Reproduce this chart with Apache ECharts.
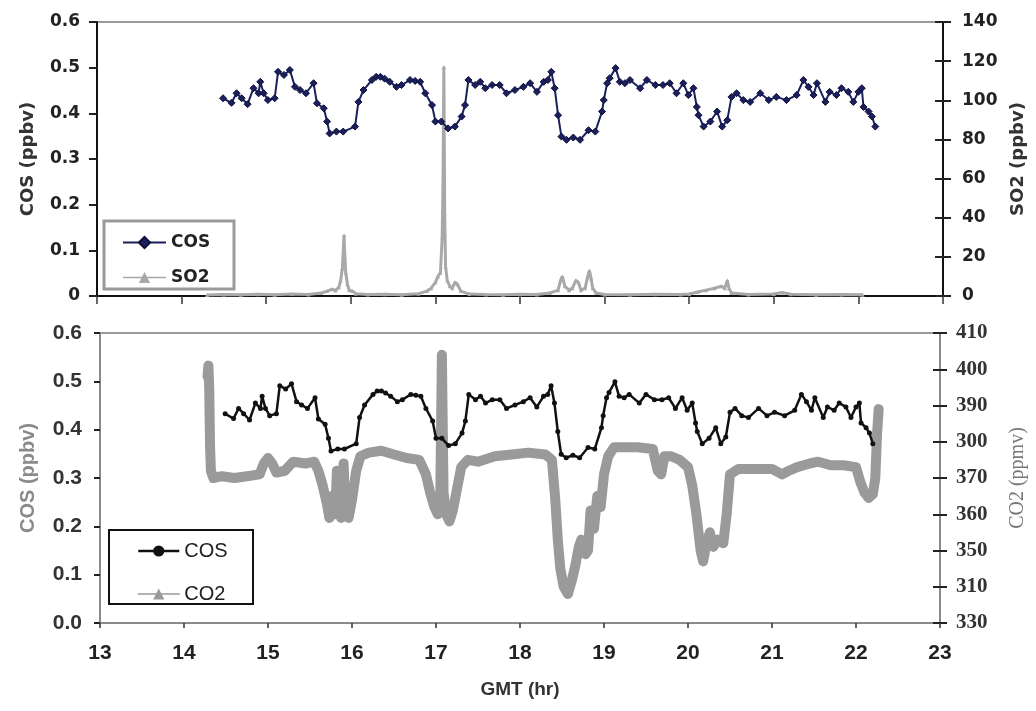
<!DOCTYPE html>
<html>
<head>
<meta charset="utf-8">
<script src="https://cdn.jsdelivr.net/npm/echarts@6/dist/echarts.min.js"></script>
<style>
  html, body { margin: 0; padding: 0; background: #fff; }
  #chart { width: 1036px; height: 711px; }
</style>
</head>
<body>
<div id="chart"></div>
<script>
// ---- Data (GMT hour, value) ----
const cosData = [
  [14.49,0.433],[14.59,0.423],[14.65,0.444],[14.71,0.433],[14.78,0.420],[14.85,0.455],[14.91,0.444],
  [14.93,0.469],[14.97,0.444],[15.02,0.429],[15.10,0.433],[15.14,0.491],[15.21,0.484],[15.28,0.495],
  [15.34,0.458],[15.40,0.451],[15.47,0.444],[15.56,0.466],[15.60,0.422],[15.68,0.411],[15.72,0.382],
  [15.75,0.356],[15.83,0.360],[15.91,0.360],[16.05,0.371],[16.09,0.425],[16.15,0.451],[16.25,0.473],
  [16.30,0.480],[16.35,0.480],[16.40,0.476],[16.46,0.469],[16.54,0.458],[16.60,0.462],[16.70,0.473],
  [16.76,0.471],[16.82,0.469],[16.88,0.444],[16.96,0.418],[17.00,0.382],[17.07,0.382],[17.15,0.367],
  [17.23,0.371],[17.31,0.393],[17.35,0.418],[17.39,0.473],[17.47,0.462],[17.53,0.469],[17.59,0.455],
  [17.67,0.462],[17.76,0.462],[17.84,0.444],[17.94,0.451],[18.04,0.458],[18.12,0.466],[18.20,0.447],
  [18.28,0.469],[18.33,0.473],[18.37,0.491],[18.41,0.455],[18.45,0.396],[18.49,0.349],[18.55,0.342],
  [18.63,0.347],[18.71,0.342],[18.81,0.363],[18.89,0.360],[18.97,0.404],[18.99,0.429],[19.03,0.466],
  [19.06,0.477],[19.13,0.499],[19.18,0.469],[19.24,0.466],[19.30,0.473],[19.42,0.455],[19.50,0.473],
  [19.60,0.462],[19.69,0.462],[19.77,0.466],[19.85,0.444],[19.93,0.466],[19.99,0.440],[20.05,0.455],
  [20.09,0.414],[20.11,0.396],[20.17,0.371],[20.25,0.382],[20.33,0.404],[20.39,0.371],[20.45,0.385],
  [20.50,0.436],[20.56,0.444],[20.64,0.429],[20.72,0.425],[20.84,0.444],[20.94,0.429],[21.03,0.436],
  [21.15,0.429],[21.27,0.440],[21.35,0.473],[21.41,0.458],[21.47,0.440],[21.51,0.466],[21.61,0.425],
  [21.66,0.447],[21.74,0.440],[21.80,0.455],[21.88,0.447],[21.94,0.425],[22.00,0.447],[22.04,0.455],
  [22.06,0.414],[22.12,0.404],[22.16,0.393],[22.20,0.371]
];

const so2Data = [
  [14.30,0.5],[14.50,0.8],[14.70,0.6],[14.90,0.9],[15.10,0.7],[15.30,1.0],[15.50,0.8],[15.65,1.5],
  [15.72,2.5],[15.78,3.5],[15.82,2.8],[15.86,4.5],[15.88,8],[15.90,14],[15.92,31],[15.93,20],
  [15.94,12],[15.96,6],[15.98,3],[16.02,2.5],[16.06,1.2],[16.20,0.8],[16.40,0.9],[16.60,0.7],
  [16.80,1.2],[16.90,2.5],[16.95,4],[17.00,7],[17.03,10],[17.06,12],[17.08,30],[17.09,57],
  [17.10,117],[17.11,42],[17.12,15],[17.14,8],[17.17,5],[17.20,4],[17.23,7],[17.26,6],[17.30,2.5],
  [17.40,1.0],[17.60,0.8],[17.80,0.7],[18.00,0.9],[18.20,0.8],[18.35,1.5],[18.45,3],[18.48,8],
  [18.50,10],[18.53,5],[18.58,3],[18.62,4],[18.66,8],[18.69,7],[18.72,3],[18.77,4],[18.80,10],
  [18.82,13],[18.84,9],[18.86,4],[18.90,1.5],[19.00,0.8],[19.30,0.7],[19.60,0.9],[19.90,0.8],
  [20.00,1.0],[20.10,2],[20.20,3],[20.30,4],[20.38,5],[20.42,4],[20.45,8],[20.47,4],[20.50,1.5],
  [20.70,0.8],[21.00,1.0],[21.10,1.8],[21.20,0.9],[21.50,0.7],[21.80,0.8],[22.05,0.6]
];

const co2Data = [
  [14.28,398],[14.29,401],[14.30,395],[14.31,379],[14.32,372],[14.35,370],[14.45,370.5],[14.60,370],
  [14.75,370.5],[14.90,371],[14.95,374],[15.00,375.5],[15.05,374],[15.10,371.5],[15.20,372],[15.30,374.5],
  [15.45,374],[15.55,374.5],[15.60,372],[15.65,368],[15.70,363],[15.73,359],[15.76,365],[15.80,360],
  [15.82,372],[15.84,362],[15.87,359],[15.90,374],[15.92,361],[15.96,359],[16.00,364],[16.05,372],
  [16.10,376],[16.20,377],[16.35,377.5],[16.50,376.5],[16.65,375.5],[16.80,375],[16.88,371],[16.93,366],
  [16.98,362],[17.02,360],[17.05,363],[17.07,404],[17.09,366],[17.12,360],[17.16,358],[17.20,361],
  [17.25,367],[17.30,373],[17.38,375],[17.50,374.5],[17.70,376],[17.90,376.5],[18.10,377],[18.30,376.5],
  [18.38,375],[18.42,364],[18.45,353],[18.48,345],[18.52,340],[18.57,338],[18.62,342],[18.66,346],
  [18.70,351],[18.73,353],[18.78,349],[18.81,350],[18.84,361],[18.88,356],[18.92,365],[18.96,362],
  [19.00,371],[19.05,376],[19.12,378.5],[19.25,378.5],[19.40,378.5],[19.58,378],[19.64,372],[19.68,371],
  [19.72,376],[19.80,376],[19.90,375],[20.00,373],[20.05,368],[20.10,360],[20.15,350],[20.18,347],
  [20.22,352],[20.26,355],[20.30,351],[20.35,353],[20.42,352],[20.46,360],[20.50,371],[20.60,372.5],
  [20.80,372.5],[21.00,372.5],[21.12,371],[21.20,372],[21.30,373],[21.45,374],[21.55,374.5],[21.70,373.5],
  [21.85,373.5],[22.00,373],[22.05,369],[22.10,366],[22.15,364.5],[22.20,365.5],[22.23,370],[22.25,382],
  [22.27,389]
];

// Tick labels of the CO2 axis exactly as printed in the source figure
const co2TickLabels = ['330','310','350','360','370','300','390','400','410'];

const topFont = 'DejaVu Sans';
const botFont = '"Liberation Sans Narrow", "Liberation Sans", Arial, sans-serif';
const serifFont = '"Liberation Serif", "Times New Roman", serif';

const chart = echarts.init(document.getElementById('chart'), null, { renderer: 'canvas' });

const option = {
  animation: false,
  backgroundColor: '#fff',
  grid: [
    { left: 97, top: 22, right: 93, height: 274, show: true, borderColor: '#9a9a9a', borderWidth: 2, backgroundColor: 'transparent' },
    { left: 100, top: 333, right: 92, height: 290, show: true, borderColor: '#9a9a9a', borderWidth: 2, backgroundColor: 'transparent' }
  ],
  xAxis: [
    { type: 'value', gridIndex: 0, min: 13, max: 23, interval: 1,
      axisLine: { lineStyle: { color: '#111', width: 2 } },
      axisTick: { length: 8, lineStyle: { color: '#333', width: 1.5 } },
      axisLabel: { show: false }, splitLine: { show: false } },
    { type: 'value', gridIndex: 1, min: 13, max: 23, interval: 1,
      name: 'GMT (hr)', nameLocation: 'middle', nameGap: 57,
      nameTextStyle: { fontFamily: botFont, fontWeight: 'bold', fontSize: 19, color: '#333' },
      axisLine: { lineStyle: { color: '#8a8a8a', width: 2 } },
      axisTick: { length: 5, lineStyle: { color: '#333', width: 1.5 } },
      axisLabel: { margin: 20, fontFamily: botFont, fontWeight: 'bold', fontSize: 21, color: '#222' },
      splitLine: { show: false } }
  ],
  yAxis: [
    { type: 'value', gridIndex: 0, min: 0, max: 0.6, interval: 0.1, position: 'left',
      name: 'COS (ppbv)', nameLocation: 'middle', nameGap: 60, nameRotate: 90,
      nameTextStyle: { fontFamily: topFont, fontWeight: 'bold', fontSize: 18, color: '#333' },
      axisLine: { show: true, lineStyle: { color: '#111', width: 2 } },
      axisTick: { show: true, length: 8, lineStyle: { color: '#222', width: 2 } },
      axisLabel: { margin: 17, fontFamily: topFont, fontWeight: 'bold', fontSize: 17, color: '#222',
        formatter: v => v === 0 ? '0' : v.toFixed(1) },
      splitLine: { show: false } },
    { type: 'value', gridIndex: 0, min: 0, max: 140, interval: 20, position: 'right',
      name: 'SO2 (ppbv)', nameLocation: 'middle', nameGap: 66, nameRotate: 90,
      nameTextStyle: { fontFamily: topFont, fontWeight: 'bold', fontSize: 18, color: '#333' },
      axisLine: { show: true, lineStyle: { color: '#111', width: 2 } },
      axisTick: { show: true, length: 8, lineStyle: { color: '#222', width: 2 } },
      axisLabel: { margin: 19, fontFamily: topFont, fontWeight: 'bold', fontSize: 17, color: '#222' },
      splitLine: { show: false } },
    { type: 'value', gridIndex: 0, min: 0, max: 140, interval: 20, position: 'right',
      axisLine: { show: false }, axisLabel: { show: false }, splitLine: { show: false },
      axisTick: { show: true, inside: true, length: 8, lineStyle: { color: '#222', width: 2 } } },
    { type: 'value', gridIndex: 1, min: 0, max: 0.6, interval: 0.1, position: 'left',
      name: 'COS (ppbv)', nameLocation: 'middle', nameGap: 62, nameRotate: 90,
      nameTextStyle: { fontFamily: botFont, fontWeight: 'bold', fontSize: 20, color: '#8a8a8a' },
      axisLine: { show: true, lineStyle: { color: '#8a8a8a', width: 2 } },
      axisTick: { show: true, length: 6, lineStyle: { color: '#222', width: 2 } },
      axisLabel: { margin: 18, fontFamily: botFont, fontWeight: 'bold', fontSize: 21, color: '#333',
        formatter: v => v.toFixed(1) },
      splitLine: { show: false } },
    { type: 'value', gridIndex: 1, min: 330, max: 410, interval: 10, position: 'right',
      name: 'CO2 (ppmv)', nameLocation: 'middle', nameGap: 68, nameRotate: 90,
      nameTextStyle: { fontFamily: serifFont, fontSize: 20, color: '#777' },
      axisLine: { show: true, lineStyle: { color: '#8a8a8a', width: 2 } },
      axisTick: { show: true, length: 7, lineStyle: { color: '#222', width: 2 } },
      axisLabel: { margin: 16, fontFamily: serifFont, fontWeight: 'bold', fontSize: 21, color: '#333',
        formatter: v => co2TickLabels[Math.round((v - 330) / 10)] },
      splitLine: { show: false } },
    { type: 'value', gridIndex: 1, min: 330, max: 410, interval: 10, position: 'right',
      axisLine: { show: false }, axisLabel: { show: false }, splitLine: { show: false },
      axisTick: { show: true, inside: true, length: 7, lineStyle: { color: '#222', width: 2 } } }
  ],
  legend: [
    { orient: 'vertical', left: 122, top: 234, itemWidth: 43, itemHeight: 14, itemGap: 18, padding: 0,
      textStyle: { fontFamily: topFont, fontWeight: 'bold', fontSize: 17, color: '#222' },
      data: [
        { name: 'COS', lineStyle: { width: 2 } },
        { name: 'SO2', lineStyle: { width: 1.5 } }
      ] },
    { orient: 'vertical', left: 137, top: 541, itemWidth: 41, itemHeight: 14, itemGap: 23, padding: 0,
      textStyle: { fontFamily: 'Liberation Sans, Arial, sans-serif', fontSize: 20, color: '#222' },
      formatter: n => n.trim(),
      data: [
        { name: 'COS ', lineStyle: { width: 2.5 } },
        { name: 'CO2', lineStyle: { width: 1.5 }, itemStyle: { color: '#9a9a9a' } }
      ] }
  ],
  graphic: [
    { type: 'rect', z: 3, shape: { x: 104, y: 221, width: 130, height: 68 },
      style: { fill: '#fff', stroke: '#9a9a9a', lineWidth: 3 } },
    { type: 'rect', z: 3, shape: { x: 109, y: 530, width: 144, height: 74 },
      style: { fill: '#fff', stroke: '#111', lineWidth: 2 } }
  ],
  series: [
    { name: 'SO2', type: 'line', xAxisIndex: 0, yAxisIndex: 1, data: so2Data, z: 2,
      symbol: 'triangle', symbolSize: 4, showAllSymbol: true,
      lineStyle: { color: '#a8a8a8', width: 3 }, itemStyle: { color: '#a8a8a8' } },
    { name: 'COS', type: 'line', xAxisIndex: 0, yAxisIndex: 0, data: cosData, z: 3,
      symbol: 'diamond', symbolSize: 7, showAllSymbol: true,
      lineStyle: { color: '#1b1f5e', width: 2 },
      itemStyle: { color: '#1b1f5e', borderColor: '#0c0f38', borderWidth: 1 } },
    { name: 'CO2', type: 'line', xAxisIndex: 1, yAxisIndex: 4, data: co2Data, z: 2,
      symbol: 'triangle', symbolSize: 3, showSymbol: false,
      lineStyle: { color: '#9a9a9a', width: 10, join: 'round', cap: 'round' },
      itemStyle: { color: '#9a9a9a' } },
    { name: 'COS ', type: 'line', xAxisIndex: 1, yAxisIndex: 3, data: cosData, z: 3,
      symbol: 'circle', symbolSize: 5, showAllSymbol: true,
      lineStyle: { color: '#111', width: 2.5 }, itemStyle: { color: '#111' } }
  ]
};

chart.setOption(option);
</script>
</body>
</html>
